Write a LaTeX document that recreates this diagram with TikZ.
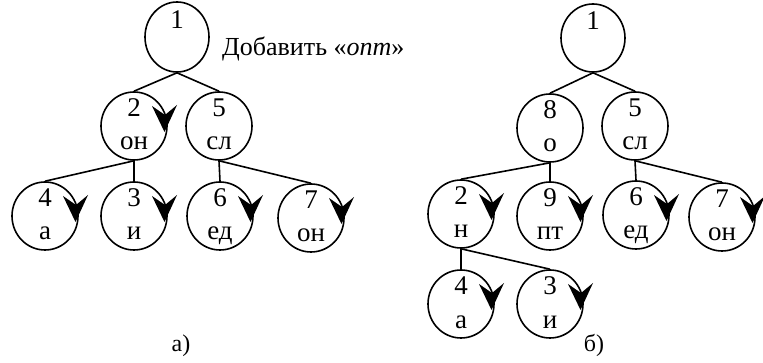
\documentclass[tikz,border=0pt]{standalone}
\usepackage{fontspec}
\setmainfont{Liberation Serif}
\usetikzlibrary{shapes.geometric}
\tikzset{
  el/.style={ellipse,draw,line width=1.6pt,minimum width=66pt,minimum height=68pt,inner sep=0pt},
  lbl/.style={font=\fontsize{27}{27}\selectfont,anchor=base,inner sep=0pt},
  edge/.style={line width=1.6pt},
  head/.style={fill=black},
}
\newcommand\tnode[5]{%
  \node[el] (#1) at (#2,#3) {};
  \node[lbl] (#1n) at (#2,#3-9) {#4};
  \node[lbl] (#1w) at (#2,#3+24) {#5};
}
\newcommand\anode[5]{%
  \tnode{#1}{#2}{#3}{#4}{#5}
  \fill[head,shift={(#1.center)}] (30.5,6) -- (18,-20) -- (31,-11) -- (43,-21) -- cycle;
}
\begin{document}
\begin{tikzpicture}[x=1pt,y=-1pt]
\useasboundingbox (0,0) rectangle (763,363);
% ---- a) ----
\node[el,minimum width=64pt,minimum height=70pt] (L1) at (177,37) {};
\node[lbl] (L1n) at (177,29) {1};
\node[font=\fontsize{26}{26}\selectfont,anchor=base west,inner sep=0pt] (add) at (222,56) {Добавить «\textit{опт}»};
\anode{L2}{134}{126}{2}{он}
\tnode{L5}{219}{126}{5}{сл}
\anode{L4}{45}{216}{4}{а}
\anode{L3}{134}{216}{3}{и}
\anode{L6}{220}{216}{6}{ед}
\anode{L7}{311}{218}{7}{он}
\draw[edge] (L1.south) -- (L2.north);
\draw[edge] (L1.south) -- (L5.north);
\draw[edge] (L2.south) -- (L4.north);
\draw[edge] (L2.south) -- (L3.north);
\draw[edge] (L5.south) -- (L6.north);
\draw[edge] (L5.south) -- (L7.north);
\node[lbl,font=\fontsize{24}{24}\selectfont] (capa) at (181,352) {а)};
% ---- b) ----
\node[el,minimum width=64pt,minimum height=68pt] (R1) at (593,38) {};
\node[lbl] (R1n) at (593,30) {1};
\tnode{R8}{550}{128}{8}{о}
\tnode{R5}{635}{126}{5}{сл}
\anode{R2}{461}{214}{2}{н}
\anode{R9}{550}{216}{9}{пт}
\anode{R6}{636}{215}{6}{ед}
\anode{R7}{722}{217}{7}{он}
\anode{R4}{461}{304}{4}{а}
\anode{R3}{550}{304}{3}{и}
\draw[edge] (R1.south) -- (R8.north);
\draw[edge] (R1.south) -- (R5.north);
\draw[edge] (R8.south) -- (R2.north);
\draw[edge] (R8.south) -- (R9.north);
\draw[edge] (R5.south) -- (R6.north);
\draw[edge] (R5.south) -- (R7.north);
\draw[edge] (R2.south) -- (R4.north);
\draw[edge] (R2.south) -- (R3.north);
\node[lbl,font=\fontsize{24}{24}\selectfont] (capb) at (594,352) {б)};
\end{tikzpicture}
\end{document}
